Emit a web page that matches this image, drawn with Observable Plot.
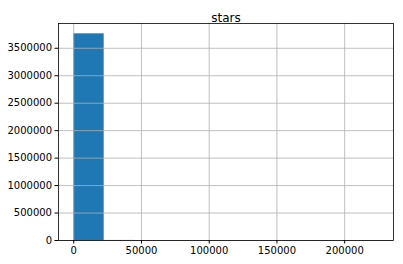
<!DOCTYPE html>
<html>
<head>
<meta charset="utf-8">
<script src="https://cdn.jsdelivr.net/npm/d3@7"></script>
<script src="https://cdn.jsdelivr.net/npm/@observablehq/plot@0.6"></script>
<style>
  html, body { margin: 0; padding: 0; background: #fff; }
  svg { display: block; }
</style>
</head>
<body>
<div id="chart"></div>
<script>
// Histogram of repository star counts: 10 equal-width bins from 0 to the max.
const title = "stars";
const binEdges = [0, 22480, 44960, 67440, 89920, 112400, 134880, 157360, 179840, 202320, 224800];
const counts = [3762800, 1200, 150, 40, 12, 6, 3, 2, 1, 1];
const xTicks = [0, 50000, 100000, 150000, 200000];
const yTicks = [0, 500000, 1000000, 1500000, 2000000, 2500000, 3000000, 3500000];

const bins = counts.map((c, i) => ({x1: binEdges[i], x2: binEdges[i + 1], count: c}));

// matplotlib-style 5% padding around the data range
const xMax = binEdges[binEdges.length - 1];
const yMax = d3.max(counts);
const xDomain = [-0.05 * xMax, 1.05 * xMax];
const yDomain = [0, 1.05 * yMax];

const chart = Plot.plot({
  width: 403,
  height: 264,
  marginLeft: 58,
  marginRight: 10,
  marginTop: 23,
  marginBottom: 24,
  style: {fontFamily: "DejaVu Sans", fontSize: "10px", color: "#000", background: "#fff"},
  x: {domain: xDomain, ticks: xTicks, tickFormat: d => String(d), label: null, tickSize: 3.5, tickPadding: 3, clamp: false},
  y: {domain: yDomain, ticks: yTicks, tickFormat: d => String(d), label: null, tickSize: 3.5, tickPadding: 3},
  marks: [
    Plot.rectY(bins, {x1: "x1", x2: "x2", y: "count", fill: "#1f77b4", insetLeft: 0, insetRight: 0}),
    Plot.gridX(xTicks, {stroke: "#b0b0b0", strokeOpacity: 1, strokeWidth: 0.8}),
    Plot.gridY(yTicks, {stroke: "#b0b0b0", strokeOpacity: 1, strokeWidth: 0.8}),
    Plot.axisX(xTicks, {tickFormat: d => String(d), tickSize: 3.5, tickPadding: 3, label: null, fontSize: 10}),
    Plot.axisY(yTicks, {tickFormat: d => String(d), tickSize: 3.5, tickPadding: 3, label: null, fontSize: 10}),
    Plot.frame({stroke: "#000", strokeWidth: 0.8}),
    Plot.text([title], {frameAnchor: "top", dy: -10, text: d => d, fontSize: 12, fill: "#000"})
  ]
});

document.getElementById("chart").appendChild(chart);
</script>
</body>
</html>
